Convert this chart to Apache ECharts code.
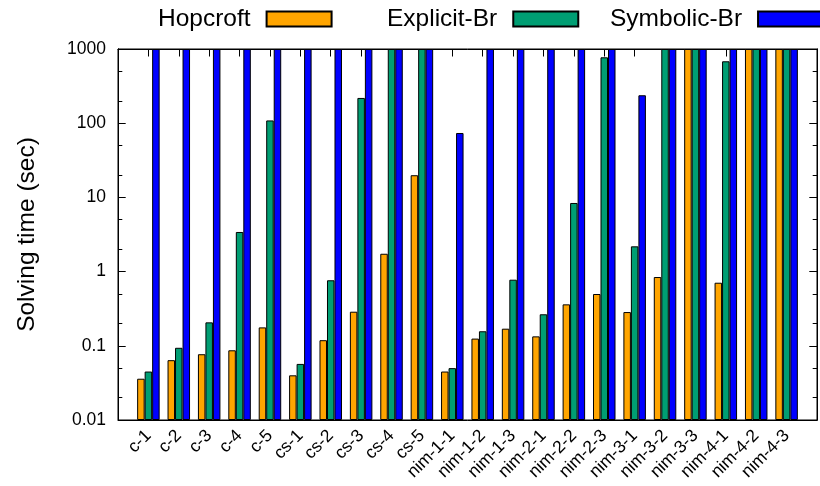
<!DOCTYPE html>
<html>
<head>
<meta charset="utf-8">
<script src="https://cdn.jsdelivr.net/npm/echarts@6/dist/echarts.min.js"></script>
<style>
html,body{margin:0;padding:0;background:#fff;}
#chart{width:820px;height:486px;}
</style>
</head>
<body>
<div id="chart"></div>
<script>
// ---- data ----
const categories = ['c-1','c-2','c-3','c-4','c-5','cs-1','cs-2','cs-3','cs-4','cs-5',
  'nim-1-1','nim-1-2','nim-1-3','nim-2-1','nim-2-2','nim-2-3','nim-3-1','nim-3-2','nim-3-3',
  'nim-4-1','nim-4-2','nim-4-3'];
const hopcroft   = [0.036,0.064,0.077,0.087,0.177,0.040,0.119,0.288,1.74,19.9,
  0.045,0.125,0.170,0.134,0.362,0.499,0.285,0.845,1000,0.708,1000,1000];
const explicitBr = [0.045,0.094,0.207,3.42,109,0.057,0.764,219,1000,1000,
  0.050,0.157,0.778,0.266,8.41,773,2.19,1000,1000,683,1000,1000];
const symbolicBr = [1000,1000,1000,1000,1000,1000,1000,1000,1000,1000,
  73.8,1000,1000,1000,1000,1000,238,1000,1000,1000,1000,1000];
const seriesNames = ['Hopcroft','Explicit-Br','Symbolic-Br'];
const yTickValues = [0.01,0.1,1,10,100,1000];
const yTickLabels = ['0.01','0.1','1','10','100','1000'];
const yMinorValues = [0.02,0.05,0.2,0.5,2,5,20,50,200,500];

// ---- chart ----
const FONT = 'Liberation Sans';
const colors = ['#FFA500','#009E73','#0000FF'];
const pad = arr => [null].concat(arr, [null]);
const xData = [''].concat(categories, ['']);
const yMin = yTickValues[0], yMax = yTickValues[yTickValues.length-1];
const lg = v => Math.log10(v);

const chart = echarts.init(document.getElementById('chart'), null, {renderer:'canvas'});

// helper tick-only axes laid out in log10 space (same extent as the main log axis)
function tickAxis(position, values, len){
  const cv = values.map(lg);
  return {
    type:'value', position:position, min:lg(yMin), max:lg(yMax),
    splitLine:{show:false},
    axisLine:{show:true, onZero:false, lineStyle:{color:'#000', width:1}},
    axisLabel:{show:false, customValues:cv},
    axisTick:{show:true, inside:true, length:len, lineStyle:{color:'#000', width:1},
      customValues:cv}
  };
}

function legendFor(i, left){
  return {
    show:true, left:left, top:5, padding:0,
    orient:'horizontal', align:'right',
    itemWidth:65, itemHeight:15,
    icon:'rect',
    data:[seriesNames[i]],
    textStyle:{fontFamily:FONT, fontSize:24.5, color:'#000', lineHeight:28, padding:[0,11,0,0]}
  };
}

const option = {
  animation:false,
  backgroundColor:'#fff',
  color:colors,
  legend:[legendFor(0,158), legendFor(1,387), legendFor(2,610)],
  grid:{left:118, right:3, top:49, bottom:66, show:true, borderColor:'#000', borderWidth:1, containLabel:false},
  xAxis:[
    {
      type:'category', data:xData, boundaryGap:false, position:'bottom',
      axisLine:{show:true, onZero:false, lineStyle:{color:'#000'}},
      axisTick:{show:true, inside:true, interval:0, length:7.5, lineStyle:{color:'#000'}},
      axisLabel:{interval:0, rotate:45, margin:13, fontFamily:FONT, fontSize:17.5, color:'#000'},
      splitLine:{show:false}
    },
    {
      type:'category', data:xData, boundaryGap:false, position:'top',
      axisLine:{show:true, onZero:false, lineStyle:{color:'#000'}},
      axisTick:{show:true, inside:true, interval:0, length:7.5, lineStyle:{color:'#000'}},
      axisLabel:{show:false},
      splitLine:{show:false}
    }
  ],
  yAxis:[
    {
      type:'log', logBase:10, min:yMin, max:yMax, startValue:yMin, position:'left',
      splitLine:{show:false},
      axisLine:{show:true, onZero:false, lineStyle:{color:'#000', width:1}},
      name:'Solving time (sec)', nameLocation:'middle', nameRotate:90, nameGap:78,
      nameTextStyle:{fontFamily:FONT, fontSize:24.5, color:'#000'},
      axisTick:{show:true, inside:true, length:7.7, lineStyle:{color:'#000'}},
      axisLabel:{show:true, margin:12, fontFamily:FONT, fontSize:17.5, color:'#000',
        formatter:function(v){
          let best=0;
          for(let k=0;k<yTickValues.length;k++){
            if(Math.abs(lg(v)-lg(yTickValues[k])) < Math.abs(lg(v)-lg(yTickValues[best]))) best=k;
          }
          return yTickLabels[best];
        }}
    },
    tickAxis('left', yMinorValues, 4.3),
    tickAxis('right', yTickValues, 7.7),
    tickAxis('right', yMinorValues, 4.3)
  ],
  series:[hopcroft, explicitBr, symbolicBr].map(function(d,i){
    return {
      name:seriesNames[i], type:'bar', xAxisIndex:0, yAxisIndex:0,
      data:pad(d), barWidth:7.5, barGap:'0%',
      itemStyle:{color:colors[i], borderColor:'#000', borderWidth:1},
      emphasis:{disabled:true}
    };
  }).concat([1,2,3].map(function(k){
    return {type:'line', name:'_t'+k, data:[], xAxisIndex:1, yAxisIndex:k, silent:true, symbol:'none'};
  }))
};
chart.setOption(option);
</script>
</body>
</html>
